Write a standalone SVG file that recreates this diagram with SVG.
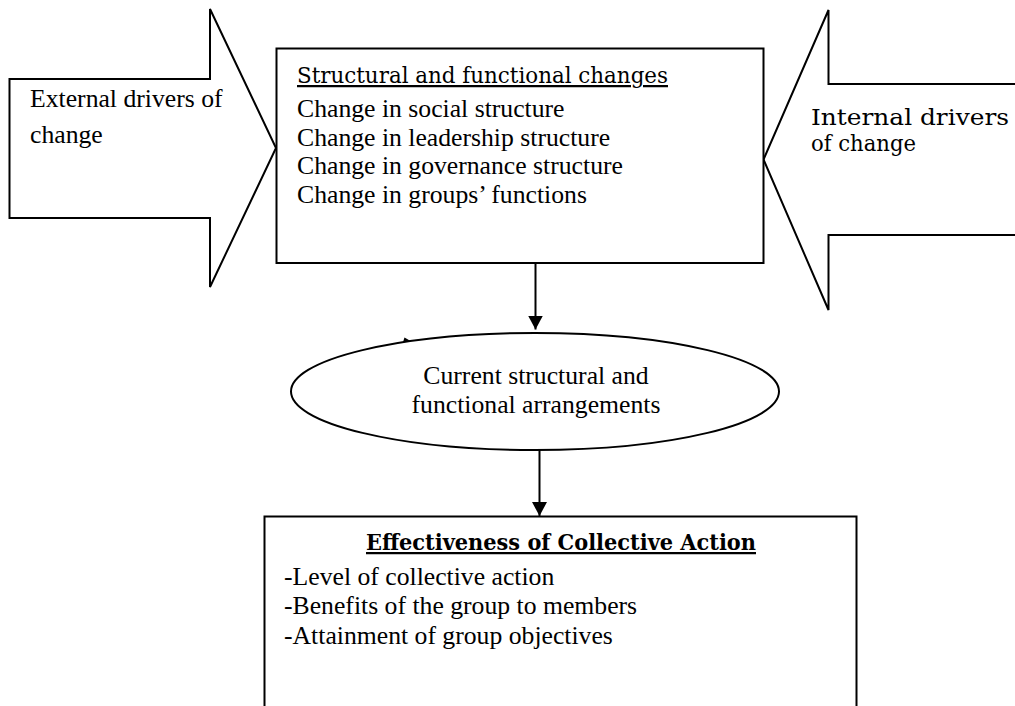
<svg xmlns="http://www.w3.org/2000/svg" width="1015" height="706" viewBox="0 0 1015 706">
  <style>
    .shape { fill: #fff; stroke: #000; stroke-width: 2; }
    .t { font-family: "Liberation Serif", "Times New Roman", serif; font-size: 25.7px; fill: #000; }
    .c { font-family: "DejaVu Serif", Cambria, serif; font-size: 22.5px; fill: #000; }
    .b { font-weight: bold; }
    .u { text-decoration: underline; }
    .conn { stroke: #000; stroke-width: 2; fill: none; }
  </style>
  <defs>
    <marker id="ah" markerUnits="userSpaceOnUse" viewBox="0 0 14 15" markerWidth="14" markerHeight="15" refX="14" refY="7.5" orient="auto">
      <path d="M0,0 L14,7.5 L0,15 Z" fill="#000"/>
    </marker>
  </defs>

  <rect width="1015" height="706" fill="#fff"/>

  <!-- block arrow: external drivers -->
  <g id="external-drivers">
    <polygon class="shape" points="9.5,79 210,79 210,9 276,148 210,287 210,218 9.5,218"/>
    <text class="t" x="30" y="107">External drivers of</text>
    <text class="t" x="30" y="143">change</text>
  </g>

  <!-- block arrow: internal drivers (tail runs off the right edge) -->
  <g id="internal-drivers">
    <path class="shape" d="M1020,84 H828.5 V10 L763.5,159.5 L828.5,310 V235 H1020 Z"/>
    <text class="c" x="811" y="125" textLength="198" lengthAdjust="spacingAndGlyphs">Internal drivers</text>
    <text class="c" x="811" y="151" textLength="105" lengthAdjust="spacingAndGlyphs">of change</text>
  </g>

  <!-- structural and functional changes -->
  <g id="structural-changes">
    <rect class="shape" x="276.5" y="48.5" width="487" height="214.5"/>
    <text class="c u" x="297" y="83" textLength="371" lengthAdjust="spacingAndGlyphs">Structural and functional changes</text>
    <text class="t" x="297" y="117">Change in social structure</text>
    <text class="t" x="297" y="145.5">Change in leadership structure</text>
    <text class="t" x="297" y="174">Change in governance structure</text>
    <text class="t" x="297" y="203">Change in groups’ functions</text>
  </g>

  <!-- current arrangements -->
  <g id="current-arrangements">
    <ellipse class="shape" cx="535" cy="391.5" rx="244" ry="58.5"/>
    <polygon points="403,342.2 404.5,337.5 411,341.2" fill="#000"/>
    <text class="t" x="536" y="384" text-anchor="middle">Current structural and</text>
    <text class="t" x="536" y="413" text-anchor="middle">functional arrangements</text>
  </g>

  <!-- effectiveness of collective action (box continues past the bottom edge) -->
  <g id="effectiveness">
    <path class="shape" d="M264.5,712 V516.5 H856.5 V712"/>
    <text class="c b u" x="561" y="550" text-anchor="middle" textLength="390" lengthAdjust="spacingAndGlyphs">Effectiveness of Collective Action</text>
    <text class="t" x="284" y="585">-Level of collective action</text>
    <text class="t" x="284" y="614">-Benefits of the group to members</text>
    <text class="t" x="284" y="644">-Attainment of group objectives</text>
  </g>

  <!-- connectors -->
  <g id="connectors">
    <line class="conn" x1="535.5" y1="263" x2="535.5" y2="329.5" marker-end="url(#ah)"/>
    <line class="conn" x1="539.5" y1="450" x2="539.5" y2="516" marker-end="url(#ah)"/>
  </g>
</svg>
